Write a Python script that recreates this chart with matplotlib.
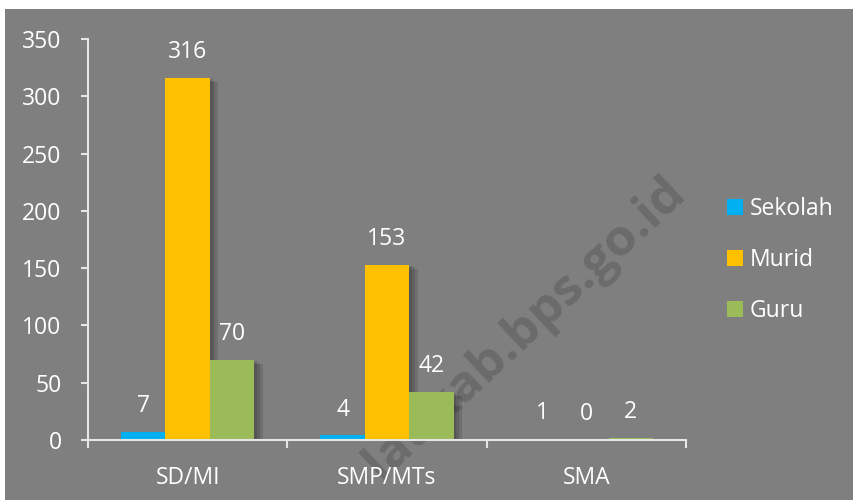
import matplotlib
matplotlib.use("Agg")
import matplotlib.pyplot as plt
import matplotlib.patheffects as pe
from matplotlib.patches import Rectangle, Patch
import numpy as np

plt.rcParams['font.family'] = ['Open Sans', 'DejaVu Sans']

categories = ["SD/MI", "SMP/MTs", "SMA"]
series = ["Sekolah", "Murid", "Guru"]
sekolah = [7, 4, 1]
murid = [316, 153, 0]
guru = [70, 42, 2]
colors = ["#00b0f0", "#ffc000", "#9bbb59"]
yticks = [0, 50, 100, 150, 200, 250, 300, 350]

BG = "#7f7f7f"
AXIS = "#e6e6e6"
FS = 16.5
W, H = 854, 503

fig = plt.figure(figsize=(W / 100, H / 100), dpi=100)
fig.patch.set_facecolor("white")

# grey chart area with a thin white border at top/left/bottom
fig.patches.append(Rectangle((5 / W, 3 / H), (W - 5) / W, (500 - 9) / H,
                             transform=fig.transFigure, facecolor=BG,
                             edgecolor="none", zorder=-3))

# watermark sits behind the bars
fig.text(687 / W, 1 - 195 / H, "laukab.bps.go.id", fontsize=37,
         fontweight="bold", color="#6b6b6b", rotation=43,
         rotation_mode="anchor", ha="right", va="baseline", zorder=-1)

ax = fig.add_axes([88 / W, 1 - 440 / H, (686 - 88) / W, (440 - 39) / H])
ax.set_facecolor("none")

x = np.arange(len(categories))
width = 0.2225
# soft drop shadow, built from a few faint offset copies
shadow = [pe.SimplePatchShadow(offset=(o, -o / 2), shadow_rgbFace="black", alpha=0.12)
          for o in (6, 4, 2)] + [pe.Normal()]
for i, (name, vals) in enumerate(zip(series, [sekolah, murid, guru])):
    pos = x + (i - 1) * width
    bars = ax.bar(pos, vals, width, color=colors[i], zorder=2)
    for b in bars:
        b.set_path_effects(shadow)
    for p, v in zip(pos, vals):
        ax.annotate(str(v), (p, v), xytext=(0, 10), textcoords="offset points",
                    ha="center", va="bottom", color="white", fontsize=FS)

ax.set_xlim(-0.5, 2.5)
ax.set_ylim(0, 350)
ax.set_yticks(yticks)
ax.set_xticks(x)
ax.set_xticklabels(categories)
ax.set_xticks(np.arange(-0.5, 3, 1), minor=True)

for s in ["top", "right"]:
    ax.spines[s].set_visible(False)
for s in ["left", "bottom"]:
    ax.spines[s].set_color(AXIS)
    ax.spines[s].set_linewidth(1.5)

ax.tick_params(axis="y", colors=AXIS, labelcolor="white", labelsize=FS,
               length=5, width=1.5, pad=14)
ax.tick_params(axis="x", which="major", length=0, labelcolor="white",
               labelsize=FS, pad=19)
ax.tick_params(axis="x", which="minor", colors=AXIS, length=6, width=1.5,
               direction="out")

handles = [Patch(facecolor=c, edgecolor="none") for c in colors]
fig.legend(handles, series, loc="center left",
           bbox_to_anchor=(727 / W, 1 - 260 / H),
           frameon=False, fontsize=FS, labelcolor="white",
           handlelength=0.7, handleheight=0.7, handletextpad=0.3,
           labelspacing=1.18, borderaxespad=0, borderpad=0)

fig.savefig("out.png", dpi=100, facecolor=fig.get_facecolor())
